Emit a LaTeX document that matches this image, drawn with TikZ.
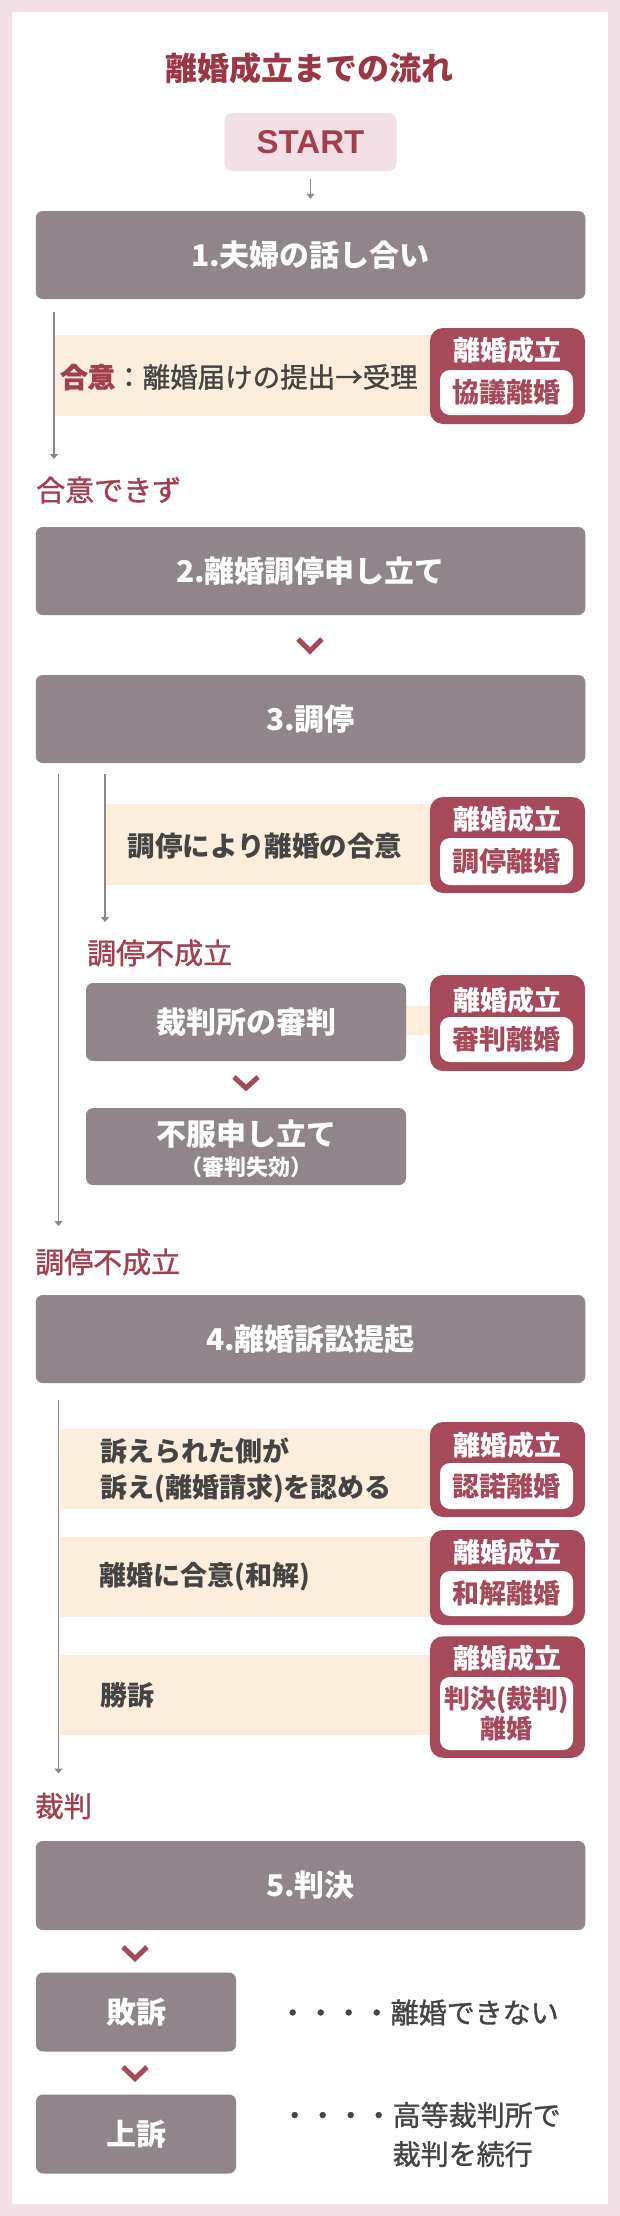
\documentclass[tikz,border=0pt]{standalone}
\usepackage{fontspec}
\setmainfont{Noto Sans CJK JP}
\newfontfamily\startfont{Liberation Sans}
\newfontfamily\mediumfont[FakeBold=1.2]{Noto Sans CJK JP}
\usepackage{xcolor}
\usepackage{tikz}
\usetikzlibrary{arrows.meta}
\definecolor{pinkbg}{HTML}{F3DFE6}
\definecolor{boxgray}{HTML}{8F858A}
\definecolor{badgered}{HTML}{A64A5B}
\definecolor{bandbeige}{HTML}{FBEEDC}
\definecolor{textgray}{HTML}{444444}
\definecolor{labelred}{HTML}{A23F4F}
\definecolor{titlered}{HTML}{9C3643}
\newcommand{\fsz}[2]{\fontsize{#1}{#2}\selectfont}
\tikzstyle{startbox}=[rectangle, rounded corners=8pt, fill=pinkbg, text=labelred, inner sep=0pt, font=\startfont\bfseries\fsz{33}{38}]
\tikzstyle{stagebox}=[rectangle, rounded corners=7pt, fill=boxgray, text=white, inner sep=0pt, minimum width=549.5pt, minimum height=88pt, font=\bfseries\fsz{30}{36}]
\tikzstyle{subbox}=[rectangle, rounded corners=7pt, fill=boxgray, text=white, inner sep=0pt, font=\bfseries\fsz{30}{36}]
\tikzstyle{band}=[rectangle, fill=bandbeige, inner sep=0pt, anchor=west]
\tikzstyle{bandtext}=[inner sep=0pt, text=textgray, font=\bfseries\fsz{27}{36}]
\tikzstyle{badge}=[rectangle, rounded corners=13pt, fill=badgered, minimum width=155pt, inner sep=0pt]
\tikzstyle{badgetitle}=[inner sep=0pt, text=white, font=\bfseries\fsz{27}{32}]
\tikzstyle{badgekind}=[rectangle, rounded corners=10pt, fill=white, text=badgered, minimum width=133pt, inner sep=0pt, font=\bfseries\fsz{27}{30}]
\tikzstyle{branchlabel}=[anchor=west, inner sep=0pt, text=labelred, font=\mediumfont\fsz{29}{34}]
\tikzstyle{flowline}=[draw=boxgray, line width=1.5pt, -{Triangle[length=5pt,width=8pt]}]
\tikzstyle{chevron}=[draw=badgered, line width=5pt]
\tikzstyle{note}=[anchor=west, inner sep=0pt, text=textgray, align=left, font=\mediumfont\fsz{28}{39}]

\begin{document}
\begin{tikzpicture}[x=1pt,y=-1pt]
\fill[pinkbg] (0,0) rectangle (620,2216);
\fill[white] (12,12.5) rectangle (608,2204);
\useasboundingbox (0,0) rectangle (620,2216);

\node[font=\bfseries\fsz{32}{38}, text=titlered, inner sep=0pt] (title) at (309,68) {離婚成立までの流れ};
\node[startbox, minimum width=172pt, minimum height=58pt] (start) at (310.5,142) {START};

% 1
\node[stagebox] (talk) at (310.5,255) {1.夫婦の話し合い};
\draw[flowline, line width=1.3pt, shorten <=8pt, shorten >=12pt] (start) -- (talk);
\coordinate (l1top) at (54,312);
\coordinate (l1end) at (54,459);
\draw[flowline] (l1top) -- (l1end);
\node[band, minimum width=385pt, minimum height=81pt] (agreeband) at (55,375.5) {};
\node[bandtext, anchor=west, font=\mediumfont\fsz{27.5}{32}] (agreetext) at (60,377) {\textbf{\color{labelred}合意}：離婚届けの提出→受理};
\node[badge, minimum height=96pt] (b1) at (507.5,376) {};
\node[badgetitle] (b1title) at (507,350) {離婚成立};
\node[badgekind, minimum height=45pt] (b1kind) at (506.5,392.5) {協議離婚};
\node[branchlabel] (noagree) at (36,490) {合意できず};

% 2, 3
\node[stagebox] (apply) at (310.5,571) {2.離婚調停申し立て};
\draw[chevron] (298,639) -- (310,651) -- (322,639);
\node[stagebox] (mediate) at (310.5,719) {3.調停};
\coordinate (l2top) at (58.5,774);
\coordinate (l2end) at (58.5,1226);
\coordinate (l3top) at (105,774);
\coordinate (l3end) at (105,922);
\draw[flowline] (l2top) -- (l2end);
\draw[flowline] (l3top) -- (l3end);
\node[band, minimum width=334pt, minimum height=81pt] (mediateband) at (106,844.5) {};
\node[bandtext, font=\bfseries\fsz{27.5}{32}] (mediatetext) at (265,846) {調停により離婚の合意};
\node[badge, minimum height=96pt] (b2) at (507.5,845) {};
\node[badgetitle] (b2title) at (507,819) {離婚成立};
\node[badgekind, minimum height=47pt] (b2kind) at (506.5,861.5) {調停離婚};

\node[branchlabel] (fail1) at (87,953) {調停不成立};
\node[band, minimum width=40pt, minimum height=29pt] (judgeband) at (400,1020.5) {};
\node[subbox, minimum width=320pt, minimum height=78pt] (judge) at (246,1022) {裁判所の審判};
\node[badge, minimum height=96pt] (b3) at (507.5,1023) {};
\node[badgetitle] (b3title) at (507,1000) {離婚成立};
\node[badgekind, minimum height=45pt] (b3kind) at (506.5,1039.5) {審判離婚};
\draw[chevron] (234,1077) -- (246,1088) -- (258,1077);
\node[subbox, minimum width=320pt, minimum height=77pt] (object) at (246,1146.5) {};
\node[inner sep=0pt, text=white, font=\bfseries\fsz{30}{36}] (objecttext) at (246,1134) {不服申し立て};
\node[inner sep=0pt, text=white, font=\bfseries\fsz{22}{26}] (objectnote) at (246,1167) {（審判失効）};

% 4
\node[branchlabel] (fail2) at (35,1262) {調停不成立};
\node[stagebox] (suit) at (310.5,1339) {4.離婚訴訟提起};
\coordinate (l4top) at (58.5,1400);
\coordinate (l4end) at (58.5,1773.5);
\draw[flowline] (l4top) -- (l4end);
\node[band, minimum width=380pt, minimum height=80pt] (admitband) at (60,1469) {};
\node[bandtext, anchor=west, align=left] (admittext) at (100,1470) {訴えられた側が\\訴え(離婚請求)を認める};
\node[badge, minimum height=95pt] (ba) at (507.5,1469.5) {};
\node[badgetitle] (batitle) at (507,1445) {離婚成立};
\node[badgekind, minimum height=46pt] (bakind) at (506.5,1486) {認諾離婚};
\node[band, minimum width=380pt, minimum height=80pt] (settleband) at (60,1577) {};
\node[bandtext, anchor=west] (settletext) at (99,1577) {離婚に合意(和解)};
\node[badge, minimum height=95pt] (bb) at (507.5,1577.5) {};
\node[badgetitle] (bbtitle) at (507,1552) {離婚成立};
\node[badgekind, minimum height=45pt] (bbkind) at (506.5,1593.5) {和解離婚};
\node[band, minimum width=380pt, minimum height=80pt] (winband) at (60,1695) {};
\node[bandtext, anchor=west] (wintext) at (100,1695) {勝訴};
\node[badge, minimum height=121.5pt] (bc) at (507.5,1697) {};
\node[badgetitle] (bctitle) at (507,1658.6) {離婚成立};
\node[badgekind, minimum height=73pt, align=center, font=\bfseries\fsz{26}{30}] (bckind) at (506.5,1713.5) {判決(裁判)\\離婚};

% 5
\node[branchlabel, font=\mediumfont\fsz{28.5}{34}] (trial) at (35,1806) {裁判};
\node[stagebox, minimum height=89pt] (ruling) at (310.5,1885.5) {5.判決};
\draw[chevron] (123,1947) -- (135,1958.5) -- (147,1947);
\node[subbox, minimum width=200pt, minimum height=79pt] (lose) at (136,2012) {敗訴};
\node[note] (losenote) at (278.5,2012.5) {・・・・離婚できない};
\draw[chevron] (123,2067) -- (135,2078.5) -- (147,2067);
\node[subbox, minimum width=200pt, minimum height=79pt] (appeal) at (136,2134) {上訴};
\node[note] (appealnote) at (280.5,2134.5) {・・・・高等裁判所で\\\hspace*{4em}裁判を続行};
\end{tikzpicture}
\end{document}
